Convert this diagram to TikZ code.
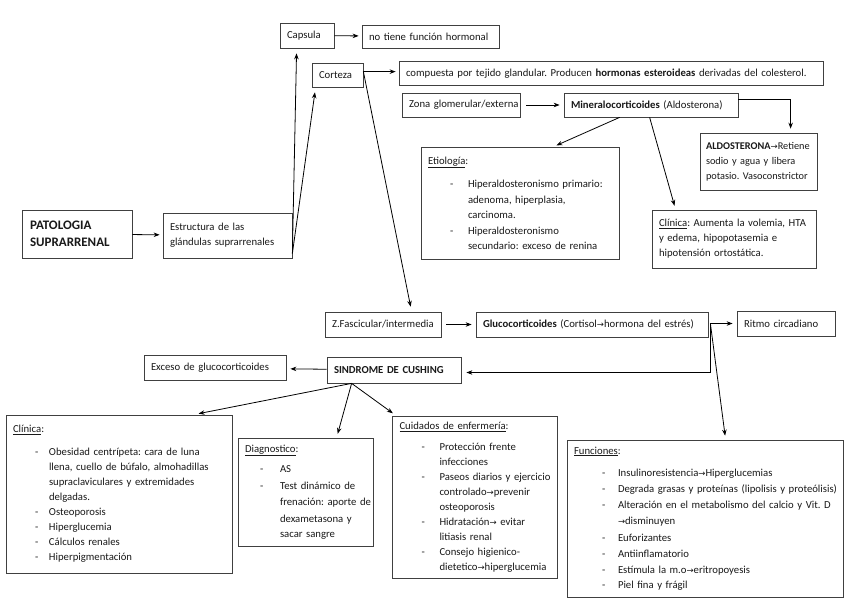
\documentclass[tikz,border=0pt]{standalone}
\usepackage{fontspec}
\setmainfont{Carlito}
\newfontfamily\arrf{DejaVu Sans}
\usetikzlibrary{arrows.meta,calc}
\newlength\dashA
\newlength\dashB
\newcommand{\itm}[1]{\mbox{\hspace*{\dashA}\makebox[\dashB][l]{-}#1}}
\newcommand{\cnt}[1]{\mbox{\hspace*{\dashA}\hspace*{\dashB}#1}}
\newcommand{\rarr}{{\arrf\fontsize{8.5}{8.5}\selectfont →}}
\newcommand{\bodyf}{\fontsize{10.7}{15}\selectfont\frenchspacing}
\newcommand{\lsp}[1]{\fontsize{10.7}{#1}\selectfont}
\begin{document}
\begin{tikzpicture}[x=1pt,y=-1pt,
  bx/.style={draw=black!75, line width=0.75pt, inner xsep=7pt, inner ysep=2pt, align=left, font=\bodyf, text=black!90},
  arr/.style={draw=black, line width=0.8pt, -{Stealth[length=6pt,width=4.5pt]}},
  conn/.style={draw=black, line width=0.8pt}]
\fill[white] (0,0) rectangle (848,599);
\useasboundingbox (0,0) rectangle (848,599);

% top
\node[bx, minimum width=54pt, minimum height=25pt, text width=40pt] (caps) at (307,35.5) {\mbox{Capsula}};
\node[bx, minimum width=137pt, minimum height=23pt, text width=123pt] (notiene) at (430.5,36.5) {\mbox{no tiene función hormonal}};
\node[bx, minimum width=51pt, minimum height=24pt, text width=37pt] (cort) at (337.5,75) {\mbox{Corteza}};
\node[bx, minimum width=424pt, minimum height=24pt, text width=410pt] (comp) at (611,73.5) {\mbox{compuesta por tejido glandular. Producen \textbf{hormonas esteroideas} derivadas del colesterol.}};
\node[bx, minimum width=118pt, minimum height=24pt, text width=104pt] (zona) at (461,105) {\mbox{Zona glomerular/externa}};
\node[bx, minimum width=174pt, minimum height=24pt, text width=160pt] (mineral) at (651,105) {\mbox{\textbf{Mineralocorticoides} (Aldosterona)}};
\node[bx, minimum width=117pt, minimum height=57pt, text width=105pt, inner xsep=6pt, font=\fontsize{10.3}{15}\selectfont\frenchspacing] (aldo) at (758.5,161.5) {\mbox{\textbf{ALDOSTERONA}\rarr Retiene}\\ \mbox{sodio y agua y libera}\\ \mbox{potasio. Vasoconstrictor}};
\node[bx, minimum width=198pt, minimum height=112pt, text width=184pt] (etio) at (520,203) {%
  \setlength\dashA{22pt}\setlength\dashB{18pt}\lsp{15.5}%
  \underline{Etiología}:\\[8pt]
  \itm{Hiperaldosteronismo primario:}\\
  \cnt{adenoma, hiperplasia,}\\
  \cnt{carcinoma.}\\
  \itm{Hiperaldosteronismo}\\
  \cnt{secundario: exceso de renina}};
\node[bx, minimum width=164pt, minimum height=58pt, text width=150pt] (clinA) at (734,239) {\mbox{\underline{Clínica}: Aumenta la volemia, HTA}\\ \mbox{y edema, hipopotasemia e}\\ \mbox{hipotensión ortostática.}};

% left
\node[bx, minimum width=110pt, minimum height=48pt, text width=94pt, inner xsep=8pt, font=\fontsize{13}{17}\selectfont\bfseries] (patol) at (77,234) {PATOLOGIA\\SUPRARRENAL};
\node[bx, minimum width=129pt, minimum height=45pt, text width=115pt] (estr) at (227.5,235.5) {\mbox{Estructura de las}\\ \mbox{glándulas suprarrenales}};

% middle
\node[bx, minimum width=116pt, minimum height=25pt, text width=102pt] (zfas) at (383,324.5) {\mbox{Z.Fascicular/intermedia}};
\node[bx, minimum width=232pt, minimum height=25pt, text width=218pt] (gluco) at (592,324.5) {\mbox{\textbf{Glucocorticoides} (Cortisol\rarr hormona del estrés)}};
\node[bx, minimum width=98pt, minimum height=25pt, text width=84pt] (ritmo) at (786,323.5) {\mbox{Ritmo circadiano}};
\node[bx, minimum width=134pt, minimum height=26pt, text width=120pt] (sind) at (394,370) {\mbox{\textbf{SINDROME DE CUSHING}}};
\node[bx, minimum width=142pt, minimum height=25pt, text width=128pt] (exceso) at (215,368) {\mbox{Exceso de glucocorticoides}};

% bottom
\node[bx, minimum width=226pt, minimum height=158pt, text width=212pt] (clinB) at (119,494) {%
  \setlength\dashA{22pt}\setlength\dashB{14pt}\lsp{15}%
  \underline{Clínica}:\\[8pt]
  \itm{Obesidad centrípeta: cara de luna}\\
  \cnt{llena, cuello de búfalo, almohadillas}\\
  \cnt{supraclaviculares y extremidades}\\
  \cnt{delgadas.}\\
  \itm{Osteoporosis}\\
  \itm{Hiperglucemia}\\
  \itm{Cálculos renales}\\
  \itm{Hiperpigmentación}};
\node[bx, minimum width=135pt, minimum height=108pt, text width=121pt] (diag) at (305.5,492) {%
  \setlength\dashA{15pt}\setlength\dashB{20pt}\lsp{16.5}%
  \underline{Diagnostico}:\\[4pt]
  \itm{AS}\\
  \itm{Test dinámico de}\\
  \cnt{frenación: aporte de}\\
  \cnt{dexametasona y}\\
  \cnt{sacar sangre}};
\node[bx, minimum width=165pt, minimum height=162pt, text width=151pt] (cuid) at (475,497) {%
  \setlength\dashA{22pt}\setlength\dashB{18pt}\lsp{15}%
  \underline{Cuidados de enfermería}:\\[6pt]
  \itm{Protección frente}\\
  \cnt{infecciones}\\
  \itm{Paseos diarios y ejercicio}\\
  \cnt{controlado\rarr prevenir}\\
  \cnt{osteoporosis}\\
  \itm{Hidratación\rarr{} evitar}\\
  \cnt{litiasis renal}\\
  \itm{Consejo higienico-}\\
  \cnt{dietetico\rarr hiperglucemia}};
\node[bx, minimum width=276pt, minimum height=157pt, text width=262pt] (func) at (705,518.5) {%
  \setlength\dashA{28pt}\setlength\dashB{16pt}\lsp{16.2}%
  \underline{Funciones}:\\[6pt]
  \itm{Insulinoresistencia\rarr Hiperglucemias}\\
  \itm{Degrada grasas y proteínas (lipolisis y proteólisis)}\\
  \itm{Alteración en el metabolismo del calcio y Vit. D}\\
  \cnt{\rarr disminuyen}\\
  \itm{Euforizantes}\\
  \itm{Antiinflamatorio}\\
  \itm{Estímula la m.o\rarr eritropoyesis}\\
  \itm{Piel fina y frágil}};

% coordinates
\coordinate (eo) at ($(estr.south east)+(0,-5)$);
\coordinate (capsIn) at ($(caps.south west)+(17,0)$);
\coordinate (cortIn) at ($(cort.south west)+(4,0)$);
\coordinate (cortOut) at ($(cort.north east)+(0,9)$);
\coordinate (zfasIn) at ($(zfas.north west)+(87,0)$);
\coordinate (minOutA) at ($(mineral.south west)+(56,0)$);
\coordinate (minOutB) at ($(mineral.south west)+(86,0)$);
\coordinate (etioIn) at ($(etio.north west)+(133,0)$);
\coordinate (clinAIn) at ($(clinA.north west)+(24,0)$);
\coordinate (minR) at ($(mineral.north east)+(0,7)$);
\coordinate (aldoIn) at ($(aldo.north west)+(91,0)$);
\coordinate (gOut) at ($(gluco.east)+(2,-1)$);
\coordinate (gDown) at ($(gluco.east)+(2,48)$);
\coordinate (funcIn) at ($(func.north west)+(159,0)$);
\coordinate (sOut) at ($(sind.south west)+(25,0)$);
\coordinate (clinBIn) at ($(clinB.north west)+(188,0)$);
\coordinate (diagIn) at ($(diag.north west)+(99,0)$);
\coordinate (cuidIn) at ($(cuid.north west)+(4,0)$);

% connectors
\draw[arr, shorten >=3pt] (patol) -- (estr);
\draw[arr, shorten >=3pt] (caps) -- (notiene);
\draw[arr, shorten >=5pt] (eo) -- (capsIn);
\draw[arr, shorten >=5pt] (eo) -- (cortIn);
\draw[arr, shorten >=3pt] (cortOut) -- (cortOut -| comp.west);
\draw[arr, shorten >=5pt] (cortOut) -- (zfasIn);
\draw[arr, shorten <=6pt, shorten >=4pt] (zona) -- (mineral);
\draw[arr, shorten >=4pt] (minR) -| (aldoIn);
\draw[arr, shorten >=3pt] (minOutA) -- (etioIn);
\draw[arr, shorten >=4pt] (minOutB) -- (clinAIn);
\draw[arr, shorten <=5pt, shorten >=4pt] (zfas) -- (gluco);
\draw[arr, shorten >=4pt] (gOut) -- (gOut -| ritmo.west);
\draw[arr, shorten >=5pt] (gOut) -- (gDown) -- (gDown -| sind.east);
\draw[arr, shorten >=4pt] (gOut) -- (funcIn);
\draw[arr, shorten >=4pt] (sind) -- (exceso);
\draw[arr, shorten >=5pt] (sOut) -- (clinBIn);
\draw[arr, shorten >=4pt] (sOut) -- (diagIn);
\draw[arr, shorten >=4pt] (sOut) -- (cuidIn);
\end{tikzpicture}
\end{document}
